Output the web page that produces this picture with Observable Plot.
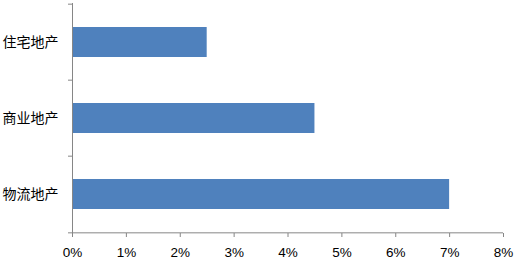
<!DOCTYPE html>
<html>
<head>
<meta charset="utf-8">
<script src="https://cdn.jsdelivr.net/npm/d3@7"></script>
<script src="https://cdn.jsdelivr.net/npm/@observablehq/plot@0.6"></script>
<style>
  html, body { margin: 0; padding: 0; background: #fff; }
</style>
</head>
<body>
<div id="chart"></div>
<script>
const categories = ["住宅地产", "商业地产", "物流地产"];
const values = [0.025, 0.045, 0.07];
const xTicks = [0, 0.01, 0.02, 0.03, 0.04, 0.05, 0.06, 0.07, 0.08];

const data = categories.map((c, i) => ({category: c, value: values[i]}));

const W = 515, H = 262;
const mL = 72, mR = 12, mT = 3, mB = 29;
const step = (H - mT - mB) / categories.length;
const xMax = 0.08;
const tickLen = 4 * xMax / (W - mL - mR);
const axisColor = "#868686";

const chart = Plot.plot({
  width: W,
  height: H,
  marginLeft: mL,
  marginRight: mR,
  marginTop: mT,
  marginBottom: mB,
  style: {background: "#fff", color: "#000"},
  x: {domain: [0, xMax], ticks: xTicks},
  y: {domain: categories, paddingInner: 0.6, paddingOuter: 0.3},
  marks: [
    Plot.barX(data, {x: "value", y: "category", fill: "#4F81BD"}),
    Plot.ruleX([0], {stroke: axisColor}),
    Plot.ruleY(categories, {y: d => d, x1: -tickLen, x2: 0, dy: -step / 2, stroke: axisColor}),
    Plot.ruleY([categories[categories.length - 1]], {y: d => d, x1: -tickLen, x2: xMax, dy: step / 2, stroke: axisColor}),
    Plot.axisX({
      ticks: xTicks,
      tickFormat: d3.format(".0%"),
      tickSize: 4,
      tickPadding: 10,
      stroke: axisColor,
      label: null,
      fontSize: 13.5,
      fontFamily: "Liberation Sans, Arial, sans-serif",
      fill: "#000"
    }),
    Plot.axisY({
      tickSize: 0,
      tickPadding: 14,
      label: null,
      fontSize: 14,
      fontFamily: "Noto Sans CJK SC, sans-serif",
      fill: "#000"
    })
  ]
});

document.getElementById("chart").appendChild(chart);
</script>
</body>
</html>
